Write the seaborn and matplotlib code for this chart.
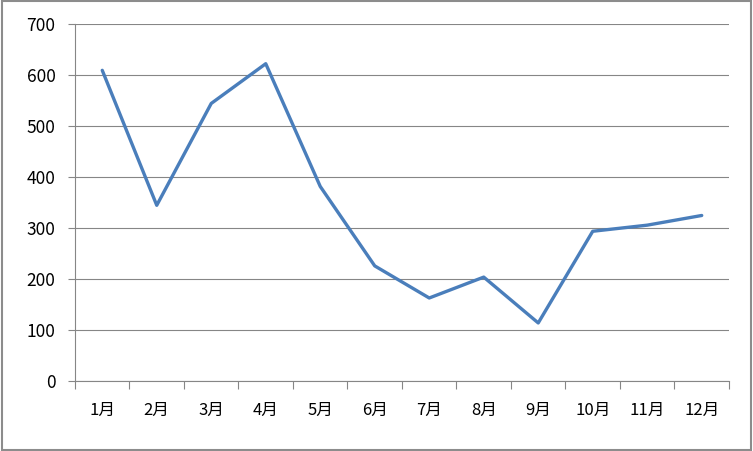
import matplotlib
matplotlib.use("Agg")
import matplotlib.pyplot as plt
from matplotlib.patches import Rectangle
from matplotlib.ticker import FixedLocator
import seaborn as sns
import pandas as pd

sns.set_style("white")
plt.rcParams["font.family"] = ["Noto Sans CJK SC", "DejaVu Sans"]

# 数据
months = ["1月", "2月", "3月", "4月", "5月", "6月", "7月", "8月", "9月", "10月", "11月", "12月"]
values = [610, 345, 545, 623, 382, 226, 163, 204, 114, 294, 306, 325]
yticks = [0, 100, 200, 300, 400, 500, 600, 700]

df = pd.DataFrame({"month": months, "value": values})

fig = plt.figure(figsize=(7.53, 4.51), dpi=100)
ax = fig.add_axes([0.0996, 0.1552, 0.8685, 0.7905])

sns.lineplot(data=df, x="month", y="value", ax=ax, color="#4A7EBB",
             linewidth=2.4, sort=False)

ax.set_xlim(-0.5, len(months) - 0.5)
ax.set_ylim(0, 700)
ax.set_yticks(yticks)
ax.set_xticks(range(len(months)))
ax.set_xticklabels(months)
ax.xaxis.set_minor_locator(FixedLocator([i - 0.5 for i in range(len(months) + 1)]))
ax.set_xlabel("")
ax.set_ylabel("")

ax.grid(axis="y", color="#868686", linewidth=0.8)
ax.set_axisbelow(True)
for s in ["top", "right"]:
    ax.spines[s].set_visible(False)
for s in ["left", "bottom"]:
    ax.spines[s].set_color("#868686")
    ax.spines[s].set_linewidth(0.8)

ax.tick_params(axis="y", which="major", length=5, width=0.8, color="#868686",
               pad=9, labelsize=12.5, labelcolor="black", left=True)
ax.tick_params(axis="x", which="major", length=0, pad=15, labelsize=12,
               labelcolor="black")
ax.tick_params(axis="x", which="minor", length=6, width=0.8, color="#868686",
               bottom=True)

# 外框
fig.patches.append(Rectangle((0.002, 0.003), 0.995, 0.994, transform=fig.transFigure,
                             fill=False, edgecolor="#8C8C8C", linewidth=1.5))

fig.savefig("out.png", dpi=100)
